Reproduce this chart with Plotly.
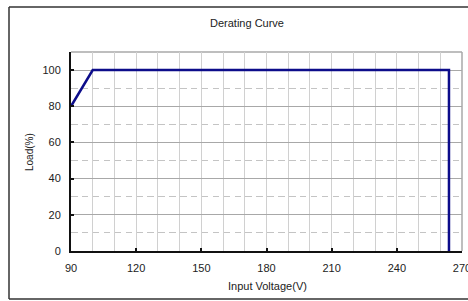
import plotly.graph_objects as go

voltage = [90, 100, 264, 264]
load = [80, 100, 100, 0]
x_ticks = [90, 120, 150, 180, 210, 240, 270]
y_ticks = [0, 20, 40, 60, 80, 100]

W, H = 468, 301
# plot area in page pixels: left 71, right 462, top 52, bottom 251
L, T = 71, 52
R = W - 462
B = H - 251
pw, ph = W - L - R, H - T - B

def px(x):
    return (x - L) / pw

def py(y):
    return (H - B - y) / ph

fig = go.Figure()
fig.add_trace(go.Scatter(x=voltage, y=load, mode="lines",
                         line=dict(color="#0c0c8a", width=2.5),
                         showlegend=False, hoverinfo="skip"))

font = dict(family="Liberation Sans, Arial, sans-serif", size=11, color="#222")

fig.update_layout(
    width=W, height=H,
    margin=dict(l=L, r=R, t=T, b=B, pad=0, autoexpand=False),
    paper_bgcolor="white", plot_bgcolor="white",
    font=font,
    xaxis=dict(range=[90, 270], tickvals=x_ticks, ticktext=[str(v) for v in x_ticks],
               showgrid=True, gridcolor="#d0d0d0", gridwidth=1,
               minor=dict(dtick=10, tick0=90, showgrid=True, gridcolor="#d0d0d0", gridwidth=1),
               showline=True, linecolor="#111", linewidth=2,
               ticks="inside", ticklen=3, tickcolor="#111", tickwidth=1.5,
               ticklabelstandoff=6, ticklabeloverflow="allow", automargin=False,
               zeroline=False, fixedrange=True),
    yaxis=dict(range=[0, 110], tickvals=y_ticks, ticktext=[str(v) for v in y_ticks],
               showgrid=True, gridcolor="#a8a8a8", gridwidth=1,
               minor=dict(dtick=10, tick0=0, showgrid=True, gridcolor="#c4c4c4",
                          griddash="6.5px,4.4px", gridwidth=1),
               showline=True, linecolor="#111", linewidth=2,
               ticks="inside", ticklen=3, tickcolor="#111", tickwidth=1.5,
               ticklabelstandoff=6, automargin=False, zeroline=False, fixedrange=True),
    shapes=[
        dict(type="line", xref="paper", yref="paper", x0=0, x1=1, y0=1, y1=1,
             line=dict(color="#a8a8a8", width=1.5), layer="below"),
        dict(type="line", xref="paper", yref="paper", x0=1, x1=1, y0=0, y1=1,
             line=dict(color="#a8a8a8", width=1.5), layer="below"),
        dict(type="line", xref="paper", yref="paper", x0=px(9), x1=px(9),
             y0=py(299), y1=py(7), line=dict(color="#333", width=1.5)),
        dict(type="line", xref="paper", yref="paper", x0=px(9), x1=px(470),
             y0=py(7), y1=py(7), line=dict(color="#333", width=1.5)),
        dict(type="line", xref="paper", yref="paper", x0=px(9), x1=px(470),
             y0=py(299), y1=py(299), line=dict(color="#333", width=1.5)),
    ],
    annotations=[
        dict(text="Derating Curve", xref="paper", yref="paper", x=px(247), y=py(23),
             showarrow=False, xanchor="center", yanchor="middle", font=font),
        dict(text="Input Voltage(V)", xref="paper", yref="paper", x=px(267), y=py(286),
             showarrow=False, xanchor="center", yanchor="middle", font=font),
        dict(text="Load(%)", xref="paper", yref="paper", x=px(29), y=py(152),
             showarrow=False, xanchor="center", yanchor="middle", textangle=-90,
             font=dict(family="Liberation Sans, Arial, sans-serif", size=10, color="#222")),
    ],
)

fig.write_html("out.html", config={"displayModeBar": False},
               post_script="document.body.style.margin='0';"
                           "document.documentElement.style.overflow='hidden';")
